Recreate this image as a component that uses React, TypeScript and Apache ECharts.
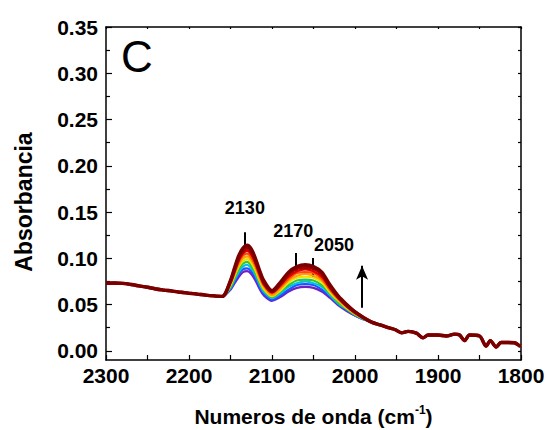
import React, { useEffect, useRef } from "react";
import * as echarts from "echarts";

// Shared baseline (left part), cm-1 and absorbance
const baseWn = [2300, 2290, 2280, 2270, 2260, 2250, 2240, 2230, 2220, 2210, 2200, 2190, 2180, 2170];
const baseAbs = [0.0730, 0.0732, 0.0728, 0.0716, 0.0701, 0.0686, 0.0668, 0.0656, 0.0645, 0.0632, 0.0622, 0.0612, 0.0601, 0.0593];

// Band region where the spectra differ
const peakWn = [2160, 2150, 2145, 2140, 2135, 2130, 2125, 2120, 2115, 2110, 2100, 2090, 2080, 2070, 2060, 2050, 2040, 2030, 2020, 2010, 2000, 1990];
const purpleAbs = [0.0587, 0.066, 0.073, 0.080, 0.085, 0.086, 0.083, 0.076, 0.067, 0.060, 0.054, 0.058, 0.064, 0.068, 0.069, 0.068, 0.064, 0.057, 0.049, 0.043, 0.038, 0.034];
const blueAbs = [0.0587, 0.067, 0.075, 0.083, 0.088, 0.089, 0.086, 0.079, 0.069, 0.062, 0.055, 0.060, 0.066, 0.071, 0.072, 0.071, 0.066, 0.059, 0.050, 0.044, 0.038, 0.034];
const cyanAbs = [0.0587, 0.068, 0.077, 0.085, 0.091, 0.093, 0.089, 0.082, 0.072, 0.064, 0.057, 0.062, 0.069, 0.073, 0.075, 0.073, 0.069, 0.060, 0.051, 0.045, 0.039, 0.034];
const greenAbs = [0.0587, 0.069, 0.079, 0.088, 0.094, 0.096, 0.092, 0.084, 0.074, 0.066, 0.058, 0.064, 0.071, 0.076, 0.077, 0.076, 0.071, 0.062, 0.052, 0.045, 0.039, 0.035];
const yellowAbs = [0.0587, 0.071, 0.081, 0.091, 0.097, 0.099, 0.095, 0.087, 0.076, 0.067, 0.059, 0.065, 0.074, 0.079, 0.080, 0.079, 0.074, 0.063, 0.054, 0.046, 0.040, 0.035];
const orangeAbs = [0.0587, 0.072, 0.083, 0.093, 0.100, 0.102, 0.098, 0.090, 0.078, 0.069, 0.060, 0.067, 0.076, 0.081, 0.083, 0.081, 0.076, 0.065, 0.055, 0.047, 0.040, 0.035];
const redOrangeAbs = [0.0587, 0.073, 0.085, 0.096, 0.103, 0.105, 0.101, 0.092, 0.081, 0.071, 0.062, 0.069, 0.078, 0.084, 0.085, 0.084, 0.078, 0.066, 0.056, 0.048, 0.041, 0.035];
const redAbs = [0.0587, 0.074, 0.086, 0.098, 0.105, 0.108, 0.104, 0.095, 0.083, 0.072, 0.063, 0.071, 0.080, 0.086, 0.088, 0.086, 0.080, 0.068, 0.057, 0.048, 0.041, 0.036];
const crimsonAbs = [0.0588, 0.075, 0.088, 0.100, 0.108, 0.111, 0.107, 0.097, 0.085, 0.074, 0.064, 0.072, 0.083, 0.089, 0.090, 0.089, 0.083, 0.069, 0.058, 0.049, 0.042, 0.036];
const darkRedAbs = [0.0588, 0.076, 0.090, 0.103, 0.111, 0.114, 0.110, 0.100, 0.087, 0.076, 0.065, 0.074, 0.085, 0.091, 0.093, 0.091, 0.085, 0.071, 0.059, 0.050, 0.042, 0.036];

// Shared tail (right part)
const tailWn = [1980, 1970, 1960, 1952, 1944, 1936, 1926, 1918, 1912, 1900, 1890, 1880, 1874, 1868, 1862, 1850, 1842, 1837, 1830, 1824, 1816, 1808, 1802, 1800];
const tailAbs = [0.031, 0.028, 0.025, 0.023, 0.0195, 0.021, 0.019, 0.014, 0.017, 0.017, 0.016, 0.018, 0.017, 0.011, 0.017, 0.016, 0.005, 0.011, 0.004, 0.009, 0.009, 0.0087, 0.0055, 0.005];

const spectra = [purpleAbs, blueAbs, cyanAbs, greenAbs, yellowAbs, orangeAbs, redOrangeAbs, redAbs, crimsonAbs, darkRedAbs];
const spectrumColors = ["#7020c0", "#2050ff", "#00c0f0", "#30c830", "#f0e000", "#ffa000", "#ff4a00", "#e00000", "#a00000", "#780000"];

const yMajorTicks = [0, 0.05, 0.1, 0.15, 0.2, 0.25, 0.3, 0.35];
const yMinorTicks = [0.025, 0.075, 0.125, 0.175, 0.225, 0.275, 0.325];
const yRightTicks = [0, 0.025, 0.05, 0.075, 0.1, 0.125, 0.15, 0.175, 0.2, 0.225, 0.25, 0.275, 0.3, 0.325, 0.35];

// Annotations (data coordinates)
const peakMarkers = [
  { wn: 2133, from: 0.1065, to: 0.128 },
  { wn: 2071, from: 0.0848, to: 0.1058 },
  { wn: 2051, from: 0.0798, to: 0.1004 },
];
const peakLabels = [
  { wn: 2132.7, abs: 0.1538, text: "2130" },
  { wn: 2074.4, abs: 0.1295, text: "2170" },
  { wn: 2025.4, abs: 0.1138, text: "2050" },
];
const arrowMarker = { wn: 1991.5, from: 0.0466, to: 0.092 };

const FONT = "'Liberation Sans', Arial, Helvetica, sans-serif";

export default function App() {
  const ref = useRef<HTMLDivElement>(null);
  useEffect(() => {
    if (!ref.current) return;
    const chart = echarts.init(ref.current, undefined, { renderer: "svg" });

    const seriesList: any[] = spectra.map((vals, i) => ({
      type: "line",
      name: "s" + i,
      xAxisIndex: 0,
      yAxisIndex: 0,
      showSymbol: false,
      symbol: "none",
      smooth: 0.3,
      silent: true,
      lineStyle: { color: spectrumColors[i], width: i >= 8 ? 3.4 : 2.2 },
      data: [
        ...baseWn.map((w, k) => [w, baseAbs[k]]),
        ...peakWn.map((w, k) => [w, vals[k]]),
        ...tailWn.map((w, k) => [w, tailAbs[k]]),
      ],
      z: 2 + i,
    }));

    seriesList.push({
      type: "scatter",
      xAxisIndex: 0,
      yAxisIndex: 0,
      symbolSize: 0,
      silent: true,
      z: 20,
      itemStyle: { opacity: 1 },
      data: peakLabels.map((p) => [p.wn, p.abs, p.text]),
      label: {
        show: true,
        position: "inside",
        formatter: (p: any) => p.value[2],
        color: "#000",
        opacity: 1,
        fontFamily: FONT,
        fontWeight: "bold",
        fontSize: 18,
      },
      markLine: {
        silent: true,
        symbol: ["none", "none"],
        label: { show: false },
        lineStyle: { color: "#000", width: 2, type: "solid", opacity: 1 },
        data: [
          ...peakMarkers.map((m) => [
            { coord: [m.wn, m.from], symbol: "none" },
            { coord: [m.wn, m.to], symbol: "none" },
          ]),
          [
            { coord: [arrowMarker.wn, arrowMarker.from], symbol: "none" },
            { coord: [arrowMarker.wn, arrowMarker.to], symbol: "arrow", symbolSize: [9, 14] },
          ],
        ],
      },
    });

    const axisLine = { show: true, onZero: false, lineStyle: { color: "#000", width: 1.5 } };

    chart.setOption({
      animation: false,
      backgroundColor: "#fff",
      grid: { left: 106, right: 27, top: 27, bottom: 70, containLabel: false, outerBoundsMode: "none" },
      xAxis: [
        {
          type: "value",
          inverse: true,
          min: 1800,
          max: 2300,
          interval: 100,
          position: "bottom",
          axisLine,
          axisTick: { show: true, inside: true, length: 5, lineStyle: { color: "#000", width: 1.2 } },
          minorTick: { show: true, splitNumber: 2, length: 5, lineStyle: { color: "#000", width: 1.2 } },
          splitLine: { show: false },
          axisLabel: {
            color: "#000",
            fontFamily: FONT,
            fontWeight: "bold",
            fontSize: 21,
            margin: 5,
            formatter: (v: number) => String(v),
            alignMinLabel: "center",
            alignMaxLabel: "center",
            hideOverlap: false,
          },
          name: "{a|Numeros de onda (cm}{s|-1}{a|)}",
          nameLocation: "middle",
          nameGap: 44,
          nameTextStyle: {
            rich: {
              a: { fontFamily: FONT, fontWeight: "bold", fontSize: 21, color: "#000", lineHeight: 24 },
              s: { fontFamily: FONT, fontWeight: "bold", fontSize: 12, color: "#000", verticalAlign: "top", lineHeight: 24 },
            },
          },
        },
        {
          type: "value",
          inverse: true,
          min: 1800,
          max: 2300,
          interval: 50,
          position: "top",
          axisLine,
          axisTick: { show: true, inside: true, length: 2, lineStyle: { color: "#000", width: 1.2 } },
          axisLabel: { show: false },
          splitLine: { show: false },
        },
      ],
      yAxis: [
        {
          type: "value",
          min: -0.01,
          max: 0.35,
          position: "left",
          axisLine,
          axisTick: { show: true, inside: true, length: 6, customValues: yMajorTicks, lineStyle: { color: "#000", width: 1.2 } },
          axisLabel: {
            show: true,
            customValues: yMajorTicks,
            formatter: (v: number) => v.toFixed(2),
            color: "#000",
            fontFamily: FONT,
            fontWeight: "bold",
            fontSize: 21,
            margin: 8,
          },
          splitLine: { show: false },
        },
        {
          type: "value",
          min: -0.01,
          max: 0.35,
          position: "left",
          offset: 0,
          axisLine: { show: false },
          axisTick: { show: true, inside: true, length: 4, customValues: yMinorTicks, lineStyle: { color: "#000", width: 1.2 } },
          axisLabel: { show: false, customValues: yMinorTicks },
          splitLine: { show: false },
        },
        {
          type: "value",
          min: -0.01,
          max: 0.35,
          position: "right",
          offset: 0,
          axisLine,
          axisTick: { show: true, inside: true, length: 3, customValues: yRightTicks, lineStyle: { color: "#000", width: 1.2 } },
          axisLabel: { show: false, customValues: yRightTicks },
          splitLine: { show: false },
        },
      ],
      graphic: [
        {
          type: "text",
          left: 121,
          top: 34,
          style: { text: "C", fontFamily: FONT, fontSize: 44, fontWeight: "normal", fill: "#000" },
          z: 30,
        },
        {
          type: "text",
          x: 24,
          y: 202,
          rotation: Math.PI / 2,
          style: {
            text: "Absorbancia",
            fontFamily: FONT,
            fontSize: 23,
            fontWeight: "bold",
            fill: "#000",
            textAlign: "center",
            textVerticalAlign: "middle",
          },
          z: 30,
        },
      ],
      series: seriesList,
    });

    return () => chart.dispose();
  }, []);

  return <div ref={ref} style={{ width: 548, height: 430, position: "absolute", left: 0, top: 0 }} />;
}
